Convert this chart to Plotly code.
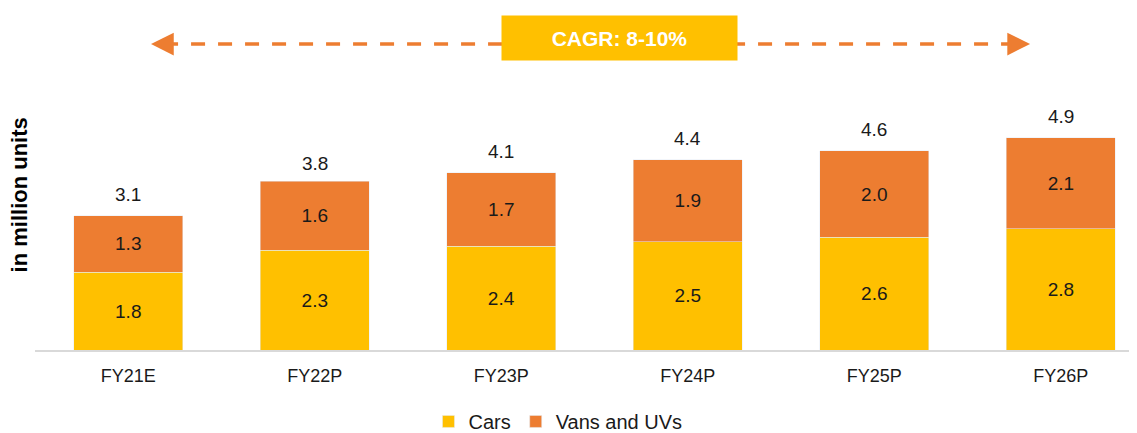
import plotly.graph_objects as go

# data
years = ["FY21E", "FY22P", "FY23P", "FY24P", "FY25P", "FY26P"]
cars = [1.8, 2.3, 2.4, 2.5, 2.6, 2.8]
vans_uvs = [1.3, 1.6, 1.7, 1.9, 2.0, 2.1]
totals = [3.1, 3.8, 4.1, 4.4, 4.6, 4.9]
cagr_text = "CAGR: 8-10%"

YELLOW = "#FFC000"
ORANGE = "#ED7D31"
TXT = "#1a1a1a"
FONT = "Arial, Liberation Sans, sans-serif"

fig = go.Figure()
fig.add_trace(go.Bar(
    x=years, y=cars, name="Cars", marker_color=YELLOW, width=0.585,
    text=[f"{v:.1f}" for v in cars], textposition="inside",
    insidetextanchor="middle", textangle=0,
    textfont=dict(size=19, color=TXT, family=FONT),
))
fig.add_trace(go.Bar(
    x=years, y=vans_uvs, name="Vans and UVs", marker_color=ORANGE, width=0.585,
    text=[f"{v:.1f}" for v in vans_uvs], textposition="inside",
    insidetextanchor="middle", textangle=0,
    textfont=dict(size=19, color=TXT, family=FONT),
))

# totals above the stacks
for yr, t in zip(years, totals):
    fig.add_annotation(x=yr, y=t, text=f"{t:.1f}", showarrow=False,
                       yanchor="bottom", yshift=9,
                       font=dict(size=19, color=TXT, family=FONT))

# dashed CAGR arrow
arrow_y = 7.067
x0, x1 = 0.122, 4.835
fig.add_shape(type="line", x0=x0 + 0.07, x1=x1 - 0.07, y0=arrow_y, y1=arrow_y,
              xref="x", yref="y", line=dict(color=ORANGE, width=3.5, dash="14px,13px"))
fig.add_annotation(x=x0, y=arrow_y, ax=16, ay=0, xref="x", yref="y",
                   text="", showarrow=True, arrowhead=2, arrowsize=1.3,
                   arrowwidth=3.5, arrowcolor=ORANGE)
fig.add_annotation(x=x1, y=arrow_y, ax=-16, ay=0, xref="x", yref="y",
                   text="", showarrow=True, arrowhead=2, arrowsize=1.3,
                   arrowwidth=3.5, arrowcolor=ORANGE)
fig.add_annotation(x=2.634, y=7.205, xref="x", yref="y", text=f"<b>{cagr_text}</b>",
                   showarrow=False, bgcolor=YELLOW, width=233, height=42,
                   font=dict(size=21, color="white", family=FONT))

# y axis title
fig.add_annotation(xref="paper", yref="paper", x=0, y=0.452, xshift=-16,
                   xanchor="center", yanchor="middle",
                   text="<b>in million units</b>", textangle=-90, showarrow=False,
                   font=dict(size=22, color="black", family=FONT))

fig.update_layout(
    barmode="stack",
    width=1128, height=428,
    margin=dict(l=27, r=0, t=0, b=86),
    plot_bgcolor="white", paper_bgcolor="white",
    font=dict(family=FONT, color=TXT),
    legend=dict(orientation="h", x=0.475, xanchor="center",
                yref="container", y=0.034, yanchor="middle",
                font=dict(size=20, color=TXT, family=FONT), traceorder="normal"),
    xaxis=dict(range=[-0.5, 5.403], showline=True, linecolor="#D9D9D9", linewidth=1.5,
               tickfont=dict(size=18, color=TXT, family=FONT), ticklabelstandoff=9,
               showgrid=False, fixedrange=True),
    yaxis=dict(range=[0, 7.9], visible=False, showgrid=False, fixedrange=True),
    showlegend=True,
)

fig.write_html("out.html")
